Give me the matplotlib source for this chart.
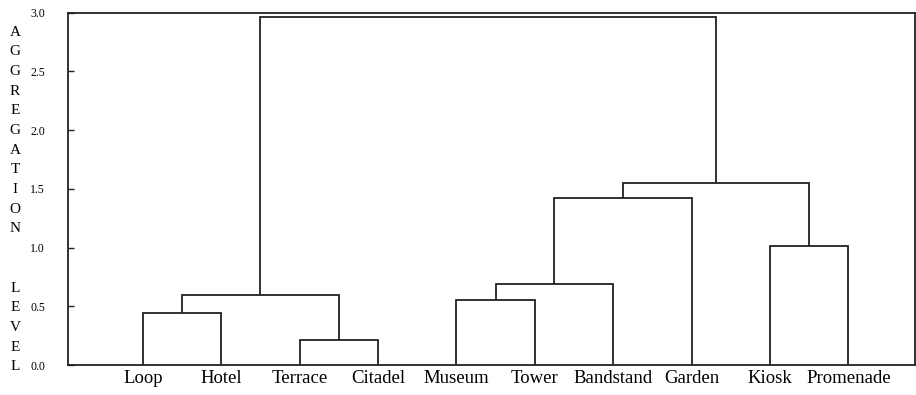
import matplotlib
matplotlib.use("Agg")
from matplotlib import pyplot as plt

# Leaves in dendrogram order
leaves = ["Loop", "Hotel", "Terrace", "Citadel", "Museum",
          "Tower", "Bandstand", "Garden", "Kiosk", "Promenade"]

# Merges: (left child, right child, aggregation level)
# children are leaf names or indices of earlier merges
merges = [
    ("Loop", "Hotel", 0.44),       # 0
    ("Terrace", "Citadel", 0.21),  # 1
    (0, 1, 0.60),                  # 2
    ("Museum", "Tower", 0.55),     # 3
    (3, "Bandstand", 0.69),        # 4
    (4, "Garden", 1.42),           # 5
    ("Kiosk", "Promenade", 1.01),  # 6
    (5, 6, 1.55),                  # 7
    (2, 7, 2.96),                  # 8
]

y_ticks = [0.0, 0.5, 1.0, 1.5, 2.0, 2.5, 3.0]
y_title = "AGGREGATION LEVEL"

plt.rcParams['font.family'] = ['Liberation Serif', 'DejaVu Serif']

fig = plt.figure(figsize=(9.16, 3.95), dpi=100)
ax = fig.add_axes([0.0742, 0.0759, 0.9247, 0.8919])

line_color = '#222222'
lw = 1.3

# leaf positions 1..n
pos = {name: i + 1 for i, name in enumerate(leaves)}
node_x = []
node_h = []


def child(c):
    if isinstance(c, str):
        return pos[c], 0.0
    return node_x[c], node_h[c]


for a, b, h in merges:
    xa, ha = child(a)
    xb, hb = child(b)
    ax.plot([xa, xa, xb, xb], [ha, h, h, hb], color=line_color, lw=lw,
            solid_joinstyle='miter', solid_capstyle='butt')
    node_x.append((xa + xb) / 2)
    node_h.append(h)

ax.set_xlim(0.045, 10.85)
ax.set_ylim(0, 3.0)

ax.set_xticks(range(1, len(leaves) + 1))
ax.set_xticklabels(leaves, fontsize=13.5)
ax.tick_params(axis='x', length=0, pad=3.5)

ax.set_yticks(y_ticks)
ax.set_yticklabels([f"{v:.1f}" for v in y_ticks], fontsize=8.5)
ax.tick_params(axis='y', direction='in', length=4.3, width=1.0,
               color=line_color, pad=16.5)

for s in ax.spines.values():
    s.set_linewidth(lw)
    s.set_color(line_color)

# stacked vertical title, one letter per line
W, H = 916, 395
y0, step = 32, 19.7
for i, ch in enumerate(y_title.replace(" ", "  ")):
    if ch == " ":
        continue
    fig.text(15 / W, 1 - (y0 + i * step) / H, ch, fontsize=11,
             ha='center', va='center')

fig.savefig("out.png", dpi=100)
